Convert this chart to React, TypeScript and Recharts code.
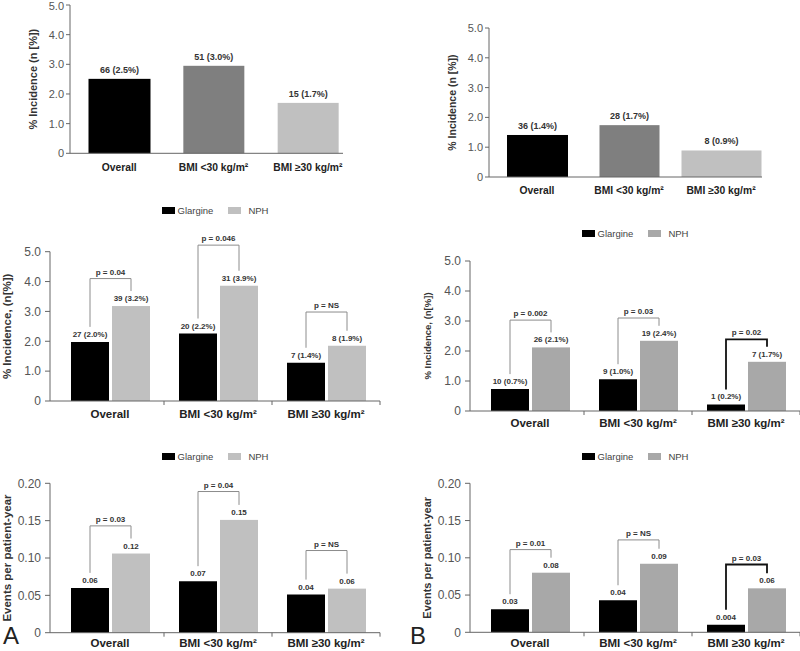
import React from 'react';
import { BarChart, Bar, XAxis, YAxis, Cell, LabelList, Legend } from 'recharts';

// ---------- data ----------
const categories = ['Overall', 'BMI <30 kg/m²', 'BMI ≥30 kg/m²'];

// Panel A, top (single series)
const aTopValues = [2.51, 2.95, 1.7];
const aTopLabels = ['66 (2.5%)', '51 (3.0%)', '15 (1.7%)'];
// Panel B, top (single series)
const bTopValues = [1.41, 1.74, 0.89];
const bTopLabels = ['36 (1.4%)', '28 (1.7%)', '8 (0.9%)'];

// Panel A, middle
const aMidGlargine = [1.98, 2.26, 1.28];
const aMidGlargineLabels = ['27 (2.0%)', '20 (2.2%)', '7 (1.4%)'];
const aMidNph = [3.18, 3.86, 1.85];
const aMidNphLabels = ['39 (3.2%)', '31 (3.9%)', '8 (1.9%)'];
const aMidP = ['p = 0.04', 'p = 0.046', 'p = NS'];
const aMidBracket = [4.1, 5.22, 2.98];

// Panel B, middle
const bMidGlargine = [0.73, 1.06, 0.22];
const bMidGlargineLabels = ['10 (0.7%)', '9 (1.0%)', '1 (0.2%)'];
const bMidNph = [2.12, 2.34, 1.64];
const bMidNphLabels = ['26 (2.1%)', '19 (2.4%)', '7 (1.7%)'];
const bMidP = ['p = 0.002', 'p = 0.03', 'p = 0.02'];
const bMidBracket = [3.03, 3.1, 2.39];

// Panel A, bottom
const aBotGlargine = [0.06, 0.069, 0.051];
const aBotGlargineLabels = ['0.06', '0.07', '0.04'];
const aBotNph = [0.106, 0.151, 0.059];
const aBotNphLabels = ['0.12', '0.15', '0.06'];
const aBotP = ['p = 0.03', 'p = 0.04', 'p = NS'];
const aBotBracket = [0.143, 0.189, 0.11];

// Panel B, bottom
const bBotGlargine = [0.031, 0.043, 0.01];
const bBotGlargineLabels = ['0.03', '0.04', '0.004'];
const bBotNph = [0.08, 0.092, 0.059];
const bBotNphLabels = ['0.08', '0.09', '0.06'];
const bBotP = ['p = 0.01', 'p = NS', 'p = 0.03'];
const bBotBracket = [0.111, 0.124, 0.091];

const incidenceTicks = [0, 1, 2, 3, 4, 5];
const rateTicks = [0, 0.05, 0.1, 0.15, 0.2];

// ---------- styles ----------
const FONT = '"Liberation Sans", Arial, Helvetica, sans-serif';
const topColors = ['#000000', '#7f7f7f', '#c0c0c0'];
const aTopBarWidths = [62, 61, 61];
const bTopBarWidths = [61, 60, 80];
const GLARGINE_COLOR = '#000000';
const NPH_LEFT = '#c0c0c0';
const NPH_RIGHT = '#a8a8a8';
const noEmph = [false, false, false];
const lastEmph = [false, false, true];
const AXIS = '#666666';
const LEG = 15;

const makeYLabel = (text: string, dist: number, size: number) => (props: any) => {
  const vb = props.viewBox || {};
  const cx = (vb.x ?? 0) + (vb.width ?? 0) - dist;
  const cy = (vb.y ?? 0) + (vb.height ?? 0) / 2;
  return (
    <text
      x={cx}
      y={cy}
      transform={`rotate(-90 ${cx} ${cy})`}
      textAnchor="middle"
      dominantBaseline="central"
      fontSize={size}
      fontWeight={700}
      fill="#333"
      fontFamily={FONT}
    >
      {text}
    </text>
  );
};

const makeValueLabel = (size: number, gap: number) => (props: any) => {
  const { x, y, width, value } = props;
  return (
    <text x={x + width / 2} y={y - gap} textAnchor="middle" fontSize={size} fontWeight={700} fill="#333" fontFamily={FONT}>
      {value}
    </text>
  );
};

const makeCatTick = (size: number, dy: number, half: number) => (props: any) => {
  const { x, y, payload } = props;
  return (
    <g>
      {half > 0 && <line x1={x + half} x2={x + half} y1={y} y2={y + 4} stroke={AXIS} strokeWidth={1} />}
      <text x={x} y={y + dy} textAnchor="middle" fontSize={size} fontWeight={700} fill="#222" fontFamily={FONT}>
        {payload.value}
      </text>
    </g>
  );
};

const makeSingleShape = (widths: number[]) => (props: any) => {
  const { x, y, width, height, fill, index } = props;
  const w = widths[index] ?? width;
  const cx = x + width / 2;
  return <rect x={cx - w / 2} y={y} width={w} height={height} fill={fill} />;
};

const makeNphShape = (gap: number, emph: boolean[]) => (props: any) => {
  const { x, y, width, height, payload, fill, index } = props;
  const base = y + height;
  const k = payload.nph > 0 ? height / payload.nph : 0;
  const toY = (v: number) => base - v * k;
  const rc = x + width / 2;
  const lc = x - gap - width / 2;
  const topY = toY(payload.bracket);
  const lb = toY(payload.glargine) - LEG;
  const rb = y - LEG;
  const strong = emph[index];
  return (
    <g>
      <rect x={x} y={y} width={width} height={height} fill={fill} />
      <path
        d={`M${lc},${lb}V${topY}H${rc}V${rb}`}
        fill="none"
        stroke={strong ? '#111' : '#8c8c8c'}
        strokeWidth={strong ? 1.8 : 1}
      />
      <text x={(lc + rc) / 2} y={topY - 4} textAnchor="middle" fontSize={8} fontWeight={700} fill="#333" fontFamily={FONT}>
        {payload.p}
      </text>
    </g>
  );
};

const LegendBox = (props: any) => {
  const { payload } = props;
  return (
    <div style={{ display: 'flex', justifyContent: 'center', alignItems: 'center', height: 12, fontSize: 9.5, color: '#444', fontFamily: FONT }}>
      {(payload || []).map((p: any, i: number) => (
        <div key={i} style={{ display: 'flex', alignItems: 'center', marginRight: i === 0 ? 15 : 0 }}>
          <span style={{ display: 'inline-block', width: 13, height: 7, background: p.color, marginRight: i === 0 ? 3 : 7 }} />
          <span>{p.value}</span>
        </div>
      ))}
    </div>
  );
};

type SingleProps = {
  left: number; top: number; width: number; height: number;
  plotTop: number; plotBottom: number; yAxisWidth: number; marginRight: number;
  values: number[]; labels: string[]; yLabel: string; yLabelDist: number; yLabelSize: number;
  padLeft: number; padRight: number; catDy: number; barWidths: number[];
};

const SinglePanel = (p: SingleProps) => {
  const data = categories.map((c, i) => ({ category: c, value: p.values[i], label: p.labels[i] }));
  return (
    <div style={{ position: 'absolute', left: p.left, top: p.top }}>
      <BarChart
        width={p.width}
        height={p.height}
        data={data}
        margin={{ top: p.plotTop, right: p.marginRight, bottom: 0, left: 0 }}
      >
        <XAxis
          dataKey="category"
          height={p.height - p.plotBottom}
          axisLine={{ stroke: AXIS }}
          tickLine={false}
          tickSize={0}
          tickMargin={0}
          interval={0}
          padding={{ left: p.padLeft, right: p.padRight }}
          tick={makeCatTick(10.3, p.catDy, 0)}
        />
        <YAxis
          width={p.yAxisWidth}
          domain={[0, 5]}
          ticks={incidenceTicks}
          tickFormatter={(v: number) => (v === 0 ? '0' : v.toFixed(1))}
          axisLine={{ stroke: AXIS }}
          tickLine={{ stroke: AXIS }}
          tickSize={4}
          tickMargin={2}
          tick={{ fontSize: 11, fill: '#555', fontFamily: FONT }}
          label={makeYLabel(p.yLabel, p.yLabelDist, p.yLabelSize)}
        />
        <Bar dataKey="value" barSize={61} isAnimationActive={false} shape={makeSingleShape(p.barWidths)}>
          {data.map((d, i) => (
            <Cell key={i} fill={topColors[i]} />
          ))}
          <LabelList dataKey="label" content={makeValueLabel(9, 6)} />
        </Bar>
      </BarChart>
    </div>
  );
};

type PairProps = {
  left: number; top: number; width: number; height: number;
  plotTop: number; plotBottom: number; yAxisWidth: number; marginRight: number;
  gl: number[]; glLabels: string[]; nph: number[]; nphLabels: string[];
  pLabels: string[]; bracket: number[]; emph: boolean[]; nphColor: string;
  ticks: number[]; max: number; decimals: number;
  yLabel: string; yLabelSize: number; legendTop: number; catDy: number;
};

const PAD_LEFT = 6;
const BAR_GAP = 3;

const PairPanel = (p: PairProps) => {
  const data = categories.map((c, i) => ({
    category: c,
    glargine: p.gl[i],
    nph: p.nph[i],
    glLabel: p.glLabels[i],
    nphLabel: p.nphLabels[i],
    p: p.pLabels[i],
    bracket: p.bracket[i],
  }));
  const plotWidth = p.width - p.yAxisWidth - p.marginRight;
  const half = (plotWidth - PAD_LEFT) / 6;
  return (
    <div style={{ position: 'absolute', left: p.left, top: p.top }}>
      <BarChart
        width={p.width}
        height={p.height}
        data={data}
        margin={{ top: p.plotTop, right: p.marginRight, bottom: 0, left: 0 }}
        barGap={BAR_GAP}
      >
        <Legend
          verticalAlign="middle"
          align="center"
          layout="horizontal"
          content={<LegendBox />}
          wrapperStyle={{ top: p.legendTop, left: p.yAxisWidth, width: plotWidth }}
        />
        <XAxis
          dataKey="category"
          height={p.height - p.plotBottom}
          axisLine={{ stroke: AXIS }}
          tickLine={false}
          tickSize={0}
          tickMargin={0}
          interval={0}
          padding={{ left: PAD_LEFT, right: 0 }}
          tick={makeCatTick(11.5, p.catDy, half)}
        />
        <YAxis
          width={p.yAxisWidth}
          domain={[0, p.max]}
          ticks={p.ticks}
          tickFormatter={(v: number) => (v === 0 ? '0' : v.toFixed(p.decimals))}
          axisLine={{ stroke: AXIS }}
          tickLine={{ stroke: AXIS }}
          tickSize={5}
          tickMargin={4}
          tick={{ fontSize: 12, fill: '#555', fontFamily: FONT }}
          label={makeYLabel(p.yLabel, 43, p.yLabelSize)}
        />
        <Bar dataKey="glargine" name="Glargine" fill={GLARGINE_COLOR} barSize={38} isAnimationActive={false}>
          <LabelList dataKey="glLabel" content={makeValueLabel(8, 5)} />
        </Bar>
        <Bar
          dataKey="nph"
          name="NPH"
          fill={p.nphColor}
          barSize={38}
          isAnimationActive={false}
          shape={makeNphShape(BAR_GAP, p.emph)}
        >
          <LabelList dataKey="nphLabel" content={makeValueLabel(8, 5)} />
        </Bar>
      </BarChart>
    </div>
  );
};

export default function App() {
  return (
    <div style={{ position: 'relative', width: 800, height: 651, background: '#fff', fontFamily: FONT, overflow: 'hidden' }}>
      <style>{'body{margin:0}'}</style>
      <SinglePanel
        left={0} top={0} width={360} height={186}
        plotTop={5} plotBottom={153.3} yAxisWidth={70} marginRight={17}
        values={aTopValues} labels={aTopLabels} barWidths={aTopBarWidths}
        yLabel="% Incidence (n [%])" yLabelDist={37} yLabelSize={11}
        padLeft={2} padRight={-12} catDy={17.4}
      />
      <SinglePanel
        left={400} top={0} width={400} height={200}
        plotTop={28} plotBottom={177} yAxisWidth={89} marginRight={38}
        values={bTopValues} labels={bTopLabels} barWidths={bTopBarWidths}
        yLabel="% Incidence (n [%])" yLabelDist={37} yLabelSize={10.5}
        padLeft={2} padRight={-5} catDy={17}
      />
      <PairPanel
        left={0} top={196} width={395} height={232}
        plotTop={55.7} plotBottom={205} yAxisWidth={50} marginRight={15}
        gl={aMidGlargine} glLabels={aMidGlargineLabels} nph={aMidNph} nphLabels={aMidNphLabels}
        pLabels={aMidP} bracket={aMidBracket} emph={noEmph} nphColor={NPH_LEFT}
        ticks={incidenceTicks} max={5} decimals={1}
        yLabel="% Incidence, (n[%])" yLabelSize={11.5} legendTop={8} catDy={16.5}
      />
      <PairPanel
        left={420} top={196} width={380} height={234}
        plotTop={65} plotBottom={215} yAxisWidth={50} marginRight={0}
        gl={bMidGlargine} glLabels={bMidGlargineLabels} nph={bMidNph} nphLabels={bMidNphLabels}
        pLabels={bMidP} bracket={bMidBracket} emph={lastEmph} nphColor={NPH_RIGHT}
        ticks={incidenceTicks} max={5} decimals={1}
        yLabel="% Incidence, (n[%])" yLabelSize={9.5} legendTop={31} catDy={16}
      />
      <PairPanel
        left={0} top={430} width={395} height={221}
        plotTop={53.3} plotBottom={202.7} yAxisWidth={50} marginRight={15}
        gl={aBotGlargine} glLabels={aBotGlargineLabels} nph={aBotNph} nphLabels={aBotNphLabels}
        pLabels={aBotP} bracket={aBotBracket} emph={noEmph} nphColor={NPH_LEFT}
        ticks={rateTicks} max={0.2} decimals={2}
        yLabel="Events per patient-year" yLabelSize={11.5} legendTop={20} catDy={14.5}
      />
      <PairPanel
        left={420} top={430} width={380} height={221}
        plotTop={53.3} plotBottom={202.3} yAxisWidth={50} marginRight={0}
        gl={bBotGlargine} glLabels={bBotGlargineLabels} nph={bBotNph} nphLabels={bBotNphLabels}
        pLabels={bBotP} bracket={bBotBracket} emph={lastEmph} nphColor={NPH_RIGHT}
        ticks={rateTicks} max={0.2} decimals={2}
        yLabel="Events per patient-year" yLabelSize={11} legendTop={20} catDy={14.5}
      />
      <div style={{ position: 'absolute', left: 3, top: 624, fontSize: 24, lineHeight: '24px', color: '#222' }}>A</div>
      <div style={{ position: 'absolute', left: 410, top: 624, fontSize: 24, lineHeight: '24px', color: '#222' }}>B</div>
    </div>
  );
}
